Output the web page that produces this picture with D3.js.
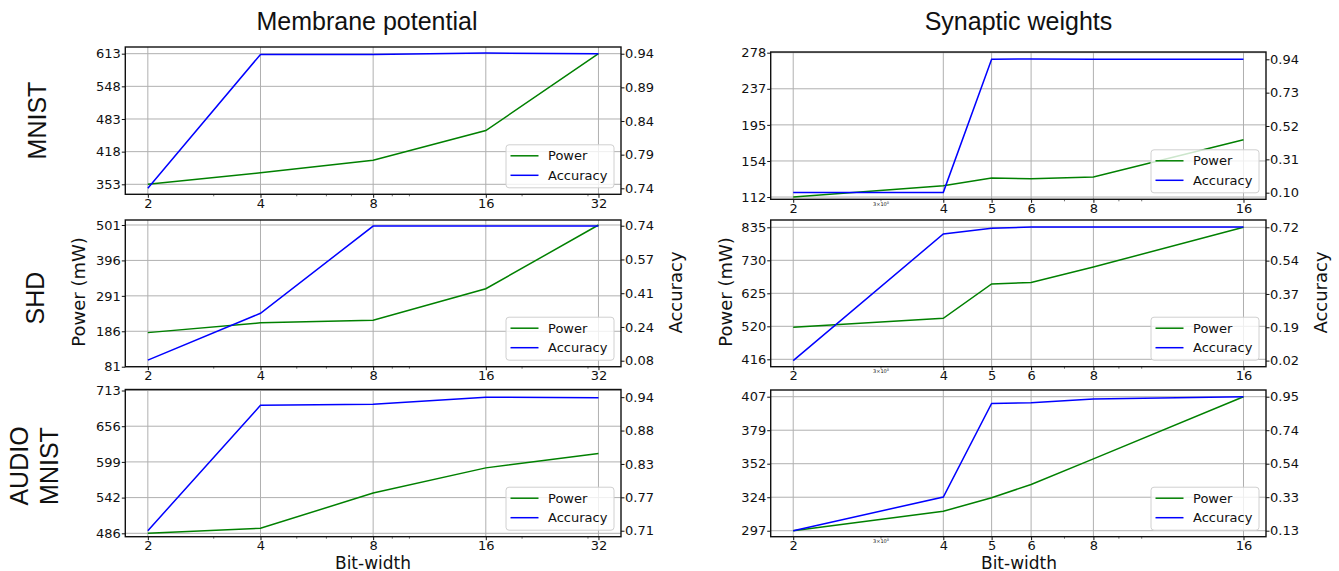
<!DOCTYPE html>
<html>
<head>
<meta charset="utf-8">
<script src="https://cdn.jsdelivr.net/npm/d3@7"></script>
<style>
  body { margin: 0; background: #fff; }
  text { font-family: 'DejaVu Sans', sans-serif; fill: #111; }
</style>
</head>
<body>
<div id="chart"></div>
<script>
// Bit-widths on the x axis
const bitsMembrane = [2, 4, 8, 16, 32];
const bitsSynaptic = [2, 4, 5, 6, 8, 16];

// Membrane potential quantization
const powerMnistMem = [353, 376, 401, 460, 613];
const accMnistMem = [0.74, 0.939, 0.939, 0.941, 0.94];
const powerShdMem = [182, 211, 219, 312, 501];
const accShdMem = [0.083, 0.312, 0.738, 0.738, 0.738];
const powerAudioMem = [486, 494, 550, 590, 613];
const accAudioMem = [0.71, 0.926, 0.928, 0.94, 0.939];

// Synaptic weight quantization
const powerMnistSyn = [112, 125, 134, 133, 135, 178];
const accMnistSyn = [0.102, 0.102, 0.94, 0.942, 0.941, 0.941];
const powerShdSyn = [518, 546, 655, 660, 709, 835];
const accShdSyn = [0.02, 0.685, 0.715, 0.721, 0.721, 0.721];
const powerAudioSyn = [297, 313, 324, 335, 356, 407];
const accAudioSyn = [0.13, 0.336, 0.909, 0.913, 0.936, 0.95];

// Tick labels (5 evenly spaced ticks per axis)
const powerTicksMnistMem = ['353', '418', '483', '548', '613'];
const accTicksMnistMem = ['0.74', '0.79', '0.84', '0.89', '0.94'];
const powerTicksShdMem = ['81', '186', '291', '396', '501'];
const accTicksShdMem = ['0.08', '0.24', '0.41', '0.57', '0.74'];
const powerTicksAudioMem = ['486', '542', '599', '656', '713'];
const accTicksAudioMem = ['0.71', '0.77', '0.83', '0.88', '0.94'];
const powerTicksMnistSyn = ['112', '154', '195', '237', '278'];
const accTicksMnistSyn = ['0.10', '0.31', '0.52', '0.73', '0.94'];
const powerTicksShdSyn = ['416', '520', '625', '730', '835'];
const accTicksShdSyn = ['0.02', '0.19', '0.37', '0.54', '0.72'];
const powerTicksAudioSyn = ['297', '324', '352', '379', '407'];
const accTicksAudioSyn = ['0.13', '0.33', '0.54', '0.74', '0.95'];

const colTitles = ['Membrane potential', 'Synaptic weights'];
const minorMembrane = [3, 5, 6, 7, 9, 10, 20, 30];
const minorSynaptic = [3, 7, 9, 10];

// Layout
const width = 1339, height = 571;
const colX = [[125.3, 621], [770.7, 1266]];
const rowY = [
    [[47, 194.3], [220, 366.7], [389.5, 536.7]],
    [[52, 199.3], [220, 366.7], [390, 536.7]]
];
const xDomains = [[Math.pow(2, 0.8), Math.pow(2, 5.2)], [Math.pow(2, 0.85), Math.pow(2, 4.15)]];

const panels = [
    { col: 0, row: 0, bits: bitsMembrane, power: powerMnistMem, acc: accMnistMem,
      pTicks: powerTicksMnistMem, aTicks: accTicksMnistMem, pDom: [333.1, 626.3], aDom: [0.7311, 0.950] },
    { col: 0, row: 1, bits: bitsMembrane, power: powerShdMem, acc: accShdMem,
      pTicks: powerTicksShdMem, aTicks: accTicksShdMem, pDom: [81, 515.8], aDom: [0.0507, 0.7679] },
    { col: 0, row: 2, bits: bitsMembrane, power: powerAudioMem, acc: accAudioMem,
      pTicks: powerTicksAudioMem, aTicks: accTicksAudioMem, pDom: [480.6, 714.6], aDom: [0.6997, 0.9532] },
    { col: 1, row: 0, bits: bitsSynaptic, power: powerMnistSyn, acc: accMnistSyn,
      pTicks: powerTicksMnistSyn, aTicks: accTicksMnistSyn, pDom: [109.4, 278.8], aDom: [0.0584, 0.986] },
    { col: 1, row: 1, bits: bitsSynaptic, power: powerShdSyn, acc: accShdSyn,
      pTicks: powerTicksShdSyn, aTicks: accTicksShdSyn, pDom: [392.5, 858.2], aDom: [-0.012, 0.7583] },
    { col: 1, row: 2, bits: bitsSynaptic, power: powerAudioSyn, acc: accAudioSyn,
      pTicks: powerTicksAudioSyn, aTicks: accTicksAudioSyn, pDom: [292.1, 412.5], aDom: [0.0933, 0.991] }
];

const svg = d3.select('#chart').append('svg')
    .attr('width', width)
    .attr('height', height);

// evenly spaced tick values between first and last label
function linspace(labels) {
    const a = +labels[0], b = +labels[labels.length - 1];
    return labels.map((d, i) => a + i * (b - a) / (labels.length - 1));
}

function styleAxis(g) {
    g.select('.domain').remove();
    g.attr('font-family', "'DejaVu Sans', sans-serif").attr('font-size', 13).attr('color', '#111');
    g.selectAll('.tick line').attr('stroke-width', 1);
}

panels.forEach(p => {
    const [x0, x1] = colX[p.col];
    const [y0, y1] = rowY[p.col][p.row];
    const xScale = d3.scaleLog().base(2).domain(xDomains[p.col]).range([x0, x1]);
    const yPower = d3.scaleLinear().domain(p.pDom).range([y1, y0]);
    const yAcc = d3.scaleLinear().domain(p.aDom).range([y1, y0]);
    const pVals = linspace(p.pTicks);
    const aVals = linspace(p.aTicks);
    const g = svg.append('g');

    // grid
    g.selectAll('.vgrid').data(p.bits).enter().append('line')
        .attr('x1', d => xScale(d)).attr('x2', d => xScale(d))
        .attr('y1', y0).attr('y2', y1)
        .attr('stroke', '#b0b0b0').attr('stroke-width', 1);
    g.selectAll('.hgrid').data(pVals).enter().append('line')
        .attr('x1', x0).attr('x2', x1)
        .attr('y1', d => yPower(d)).attr('y2', d => yPower(d))
        .attr('stroke', '#b0b0b0').attr('stroke-width', 1);

    // lines
    const powerLine = d3.line().x((d, i) => xScale(p.bits[i])).y(d => yPower(d));
    const accLine = d3.line().x((d, i) => xScale(p.bits[i])).y(d => yAcc(d));
    g.append('path').datum(p.power)
        .attr('d', powerLine).attr('fill', 'none').attr('stroke', 'green').attr('stroke-width', 1.5);
    g.append('path').datum(p.acc)
        .attr('d', accLine).attr('fill', 'none').attr('stroke', 'blue').attr('stroke-width', 1.5);

    // axes
    g.append('g')
        .attr('transform', `translate(${x0},0)`)
        .call(d3.axisLeft(yPower).tickValues(pVals).tickFormat((d, i) => p.pTicks[i]).tickSize(3.5).tickPadding(1))
        .call(styleAxis);
    g.append('g')
        .attr('transform', `translate(${x1},0)`)
        .call(d3.axisRight(yAcc).tickValues(aVals).tickFormat((d, i) => p.aTicks[i]).tickSize(3.5).tickPadding(0.5))
        .call(styleAxis);
    g.append('g')
        .attr('transform', `translate(0,${y1})`)
        .call(d3.axisBottom(xScale).tickValues(p.bits).tickFormat(d3.format('d')).tickSize(3.5).tickPadding(1))
        .call(styleAxis);

    // minor log ticks
    const minors = p.col === 0 ? minorMembrane : minorSynaptic;
    g.selectAll('.minor').data(minors).enter().append('line')
        .attr('x1', d => xScale(d)).attr('x2', d => xScale(d))
        .attr('y1', y1).attr('y2', y1 + 2)
        .attr('stroke', '#111').attr('stroke-width', 0.6);
    if (p.col === 1) {
        const lbl = g.append('text')
            .attr('x', xScale(3)).attr('y', y1 + 6.7)
            .attr('text-anchor', 'middle')
            .style('font-size', '5px')
            .text('3×10');
        lbl.append('tspan').attr('dy', -2).style('font-size', '3.5px').text('0');
    }

    // legend
    const lw = 108, lh = 43;
    const lg = g.append('g')
        .attr('transform', `translate(${x1 - 7 - lw},${y1 - 6.5 - lh})`);
    lg.append('rect')
        .attr('width', lw).attr('height', lh).attr('rx', 3)
        .attr('fill', '#fff').attr('fill-opacity', 0.8)
        .attr('stroke', '#d0d0d0').attr('stroke-width', 1);
    [['Power', 'green'], ['Accuracy', 'blue']].forEach(([name, color], i) => {
        const ly = 11 + i * 19.5;
        lg.append('line')
            .attr('x1', 4.5).attr('x2', 32.5).attr('y1', ly).attr('y2', ly)
            .attr('stroke', color).attr('stroke-width', 1.5);
        lg.append('text')
            .attr('x', 42).attr('y', ly).attr('dy', '0.36em')
            .style('font-size', '13px')
            .text(name);
    });

    // frame
    g.append('rect')
        .attr('x', x0).attr('y', y0)
        .attr('width', x1 - x0).attr('height', y1 - y0)
        .attr('fill', 'none').attr('stroke', '#111').attr('stroke-width', 1.4);
});

// column titles
const titleX = [367, 1018.5];
colTitles.forEach((t, i) => {
    svg.append('text')
        .attr('x', titleX[i]).attr('y', 29.5)
        .attr('text-anchor', 'middle')
        .style('font-family', "'Liberation Sans', Arial, sans-serif")
        .style('font-size', '25px')
        .text(t);
});

// row titles
function rowTitle(lines, x, y) {
    const t = svg.append('text')
        .attr('transform', `translate(${x},${y}) rotate(-90)`)
        .attr('text-anchor', 'middle')
        .style('font-family', "'Liberation Sans', Arial, sans-serif")
        .style('font-size', '25px');
    lines.forEach((l, i) => {
        t.append('tspan').attr('x', 0).attr('dy', i === 0 ? 0 : 30).text(l);
    });
}
rowTitle(['MNIST'], 46, 120.5);
rowTitle(['SHD'], 44, 298);
rowTitle(['AUDIO', 'MNIST'], 28.3, 466);

// axis labels
function vLabel(text, x, y) {
    svg.append('text')
        .attr('transform', `translate(${x},${y}) rotate(-90)`)
        .attr('text-anchor', 'middle')
        .style('font-size', '18px')
        .text(text);
}
vLabel('Power (mW)', 85, 292);
vLabel('Power (mW)', 731.5, 292);
vLabel('Accuracy', 682, 292.5);
vLabel('Accuracy', 1327, 292.5);

[373, 1019].forEach(x => {
    svg.append('text')
        .attr('x', x).attr('y', 568.5)
        .attr('text-anchor', 'middle')
        .style('font-size', '17px')
        .text('Bit-width');
});
</script>
</body>
</html>
